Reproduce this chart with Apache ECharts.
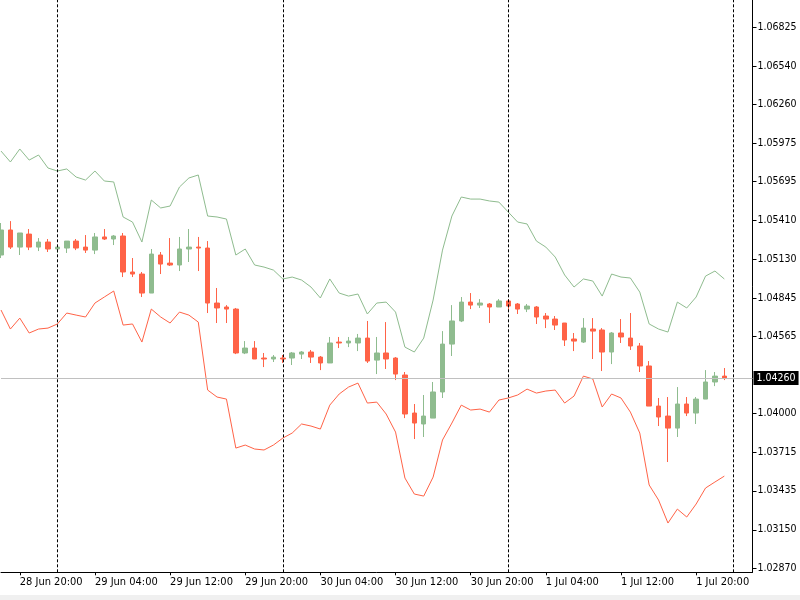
<!DOCTYPE html>
<html>
<head>
<meta charset="utf-8">
<script src="https://cdn.jsdelivr.net/npm/echarts@6/dist/echarts.min.js"></script>
<style>
  html, body { margin: 0; padding: 0; background: #fff; }
  #chart { width: 800px; height: 600px; }
</style>
</head>
<body>
<div id="chart"></div>
<script>
// hourly bars, first bar is 28 Jun 18:00
const dayNames = ['28 Jun', '29 Jun', '30 Jun', '1 Jul', '2 Jul'];
const firstHour = 18;
const slotCount = 81; // 78 bars + a few empty slots on the right

const open = [
  1.05158, 1.05341, 1.05216, 1.05311, 1.05216, 1.05253, 1.05202, 1.05209, 1.05260, 1.05216,
  1.05194, 1.05290, 1.05275, 1.05297, 1.05034, 1.05019, 1.04880, 1.05158, 1.05099, 1.05085,
  1.05202, 1.05216, 1.05209, 1.04807, 1.04778, 1.04763, 1.04442, 1.04478, 1.04405, 1.04398,
  1.04405, 1.04405, 1.04434, 1.04449, 1.04412, 1.04369, 1.04522, 1.04515, 1.04515, 1.04551,
  1.04390, 1.04442, 1.04405, 1.04281, 1.04003, 1.03923, 1.03966, 1.04157, 1.04507, 1.04676,
  1.04814, 1.04792, 1.04800, 1.04778, 1.04822, 1.04800, 1.04763, 1.04778, 1.04712, 1.04690,
  1.04661, 1.04544, 1.04522, 1.04617, 1.04610, 1.04449, 1.04588, 1.04551, 1.04493, 1.04347,
  1.04054, 1.03981, 1.03893, 1.04069, 1.04003, 1.04105, 1.04230, 1.04273
];
const high = [
  1.05392, 1.05406, 1.05319, 1.05348, 1.05282, 1.05275, 1.05224, 1.05260, 1.05275, 1.05304,
  1.05319, 1.05348, 1.05304, 1.05319, 1.05136, 1.05034, 1.05202, 1.05180, 1.05282, 1.05290,
  1.05348, 1.05290, 1.05260, 1.04917, 1.04792, 1.04771, 1.04529, 1.04529, 1.04442, 1.04427,
  1.04427, 1.04449, 1.04456, 1.04464, 1.04420, 1.04559, 1.04559, 1.04559, 1.04581, 1.04676,
  1.04559, 1.04668, 1.04412, 1.04303, 1.04069, 1.04135, 1.04230, 1.04602, 1.04792, 1.04851,
  1.04880, 1.04836, 1.04807, 1.04836, 1.04836, 1.04807, 1.04800, 1.04785, 1.04734, 1.04712,
  1.04661, 1.04588, 1.04697, 1.04697, 1.04624, 1.04595, 1.04690, 1.04734, 1.04515, 1.04383,
  1.04113, 1.04120, 1.04193, 1.04120, 1.04120, 1.04317, 1.04303, 1.04332
];
const low = [
  1.05136, 1.05202, 1.05158, 1.05194, 1.05187, 1.05180, 1.05173, 1.05173, 1.05194, 1.05173,
  1.05165, 1.05268, 1.05231, 1.04997, 1.04997, 1.04851, 1.04880, 1.05019, 1.05078, 1.05041,
  1.05107, 1.05041, 1.04734, 1.04661, 1.04661, 1.04434, 1.04434, 1.04398, 1.04339, 1.04376,
  1.04369, 1.04354, 1.04398, 1.04369, 1.04317, 1.04369, 1.04478, 1.04485, 1.04456, 1.04369,
  1.04288, 1.04325, 1.04244, 1.03966, 1.03813, 1.03828, 1.03966, 1.04113, 1.04420, 1.04668,
  1.04763, 1.04771, 1.04661, 1.04778, 1.04756, 1.04727, 1.04741, 1.04654, 1.04624, 1.04610,
  1.04493, 1.04456, 1.04515, 1.04398, 1.04310, 1.04361, 1.04515, 1.04464, 1.04303, 1.04054,
  1.03908, 1.03645, 1.03828, 1.03981, 1.03923, 1.04105, 1.04200, 1.04244
];
const close = [
  1.05341, 1.05216, 1.05319, 1.05216, 1.05253, 1.05202, 1.05216, 1.05260, 1.05209, 1.05194,
  1.05290, 1.05275, 1.05297, 1.05034, 1.05019, 1.04880, 1.05165, 1.05092, 1.05085, 1.05202,
  1.05216, 1.05209, 1.04807, 1.04771, 1.04763, 1.04442, 1.04478, 1.04398, 1.04398, 1.04412,
  1.04398, 1.04442, 1.04449, 1.04412, 1.04369, 1.04515, 1.04515, 1.04529, 1.04551, 1.04383,
  1.04442, 1.04398, 1.04288, 1.03996, 1.03930, 1.03981, 1.04157, 1.04507, 1.04676, 1.04814,
  1.04792, 1.04807, 1.04778, 1.04822, 1.04785, 1.04763, 1.04785, 1.04705, 1.04690, 1.04646,
  1.04537, 1.04529, 1.04624, 1.04602, 1.04449, 1.04588, 1.04559, 1.04493, 1.04347, 1.04054,
  1.03974, 1.03893, 1.04069, 1.04003, 1.04105, 1.04230, 1.04273, 1.04260
];
const upperBand = [
  1.05918, 1.05838, 1.05933, 1.05852, 1.05889, 1.05794, 1.05772, 1.05787, 1.05728, 1.05706,
  1.05772, 1.05699, 1.05692, 1.05436, 1.05399, 1.05253, 1.05560, 1.05502, 1.05516, 1.05655,
  1.05721, 1.05743, 1.05443, 1.05436, 1.05421, 1.05158, 1.05202, 1.05085, 1.05070, 1.05048,
  1.04983, 1.04997, 1.04975, 1.04924, 1.04844, 1.04983, 1.04880, 1.04858, 1.04873, 1.04727,
  1.04807, 1.04814, 1.04741, 1.04485, 1.04449, 1.04551, 1.04829, 1.05194, 1.05443, 1.05582,
  1.05567, 1.05567, 1.05553, 1.05545, 1.05472, 1.05399, 1.05385, 1.05260, 1.05216, 1.05143,
  1.05012, 1.04924, 1.04983, 1.04968, 1.04858, 1.05019, 1.04997, 1.04990, 1.04887, 1.04654,
  1.04617, 1.04595, 1.04814, 1.04771, 1.04851, 1.05004, 1.05041, 1.04983
];
const lowerBand = [
  1.04756, 1.04617, 1.04697, 1.04588, 1.04617, 1.04624, 1.04654, 1.04734, 1.04719, 1.04705,
  1.04807, 1.04851, 1.04895, 1.04646, 1.04654, 1.04522, 1.04763, 1.04705, 1.04661, 1.04741,
  1.04719, 1.04668, 1.04171, 1.04120, 1.04105, 1.03747, 1.03769, 1.03740, 1.03733, 1.03769,
  1.03820, 1.03857, 1.03923, 1.03908, 1.03886, 1.04061, 1.04142, 1.04193, 1.04222, 1.04076,
  1.04083, 1.03996, 1.03864, 1.03528, 1.03411, 1.03396, 1.03535, 1.03806, 1.03930, 1.04061,
  1.04025, 1.04032, 1.04010, 1.04098, 1.04113, 1.04135, 1.04178, 1.04149, 1.04164, 1.04171,
  1.04076, 1.04127, 1.04273, 1.04252, 1.04047, 1.04142, 1.04113, 1.04010, 1.03857, 1.03477,
  1.03367, 1.03199, 1.03301, 1.03243, 1.03338, 1.03455, 1.03499, 1.03542
];
const priceTicks = [
  1.02870, 1.03150, 1.03435, 1.03715, 1.04000, 1.04565, 1.04845,
  1.05130, 1.05410, 1.05695, 1.05975, 1.06260, 1.06540, 1.06825
];
const lastPrice = 1.04260;
const daySeparators = ['29 Jun 00:00', '30 Jun 00:00', '1 Jul 00:00', '2 Jul 00:00'];

const BULL = '#8fbc8f';
const BEAR = '#ff6347';
const FONT = '"DejaVu Sans Condensed", "DejaVu Sans", sans-serif';

const times = [];
for (let i = 0; i < slotCount; i++) {
  const t = firstHour + i;
  const hh = t % 24;
  times.push(dayNames[Math.floor(t / 24)] + ' ' + (hh < 10 ? '0' : '') + hh + ':00');
}
const candles = open.map((o, i) => [o, close[i], low[i], high[i]]);

// labels every 8 hours: 04:00, 12:00, 20:00
const isLabelSlot = (idx) => (firstHour + idx) % 8 === 4;

const chart = echarts.init(document.getElementById('chart'));
chart.setOption({
  animation: false,
  backgroundColor: '#ffffff',
  grid: { left: 1, right: 47.5, top: 0, bottom: 27.7, outerBoundsMode: 'none' },
  xAxis: {
    type: 'category',
    data: times,
    boundaryGap: false,
    axisLine: { lineStyle: { color: '#000', width: 1 } },
    axisTick: { interval: isLabelSlot, length: 3, lineStyle: { color: '#000' } },
    axisLabel: {
      interval: isLabelSlot,
      align: 'left',
      margin: 4,
      color: '#000',
      fontSize: 11,
      fontFamily: FONT
    },
    splitLine: { show: false }
  },
  yAxis: {
    type: 'value',
    position: 'right',
    min: 1.02839,
    max: 1.07022,
    axisLine: { show: true, lineStyle: { color: '#000', width: 1 } },
    axisTick: { show: true, length: 4, customValues: priceTicks, lineStyle: { color: '#000' } },
    axisLabel: {
      customValues: priceTicks,
      margin: 5,
      color: '#000',
      fontSize: 10.5,
      fontFamily: FONT,
      formatter: (v) => v.toFixed(5)
    },
    splitLine: { show: false }
  },
  series: [
    {
      name: 'Upper',
      type: 'line',
      data: upperBand,
      symbol: 'none',
      z: 1,
      lineStyle: { color: BULL, width: 1 },
      markLine: {
        silent: true,
        symbol: 'none',
        animation: false,
        precision: 5,
        data: [
          ...daySeparators.map((d) => ({
            xAxis: d,
            lineStyle: { color: '#000', type: [3, 2], width: 1 },
            label: { show: false }
          })),
          {
            yAxis: lastPrice,
            lineStyle: { color: '#c0c0c0', type: 'solid', width: 1 },
            label: {
              show: true,
              position: 'end',
              distance: 1,
              formatter: lastPrice.toFixed(5),
              color: '#fff',
              backgroundColor: '#000',
              padding: [2, 3, 1, 3],
              fontSize: 10.5,
              fontFamily: FONT
            }
          }
        ]
      }
    },
    {
      name: 'Lower',
      type: 'line',
      data: lowerBand,
      symbol: 'none',
      z: 1,
      lineStyle: { color: BEAR, width: 1 }
    },
    {
      name: 'EURUSD,H1',
      type: 'candlestick',
      data: candles,
      barWidth: 5,
      z: 3,
      itemStyle: {
        color: BULL,
        color0: BEAR,
        borderColor: BULL,
        borderColor0: BEAR,
        borderWidth: 1
      }
    }
  ],
  graphic: [
    { type: 'rect', left: 0, bottom: 0, shape: { width: 800, height: 5 }, style: { fill: '#f0f0f0' }, silent: true }
  ]
});
</script>
</body>
</html>
